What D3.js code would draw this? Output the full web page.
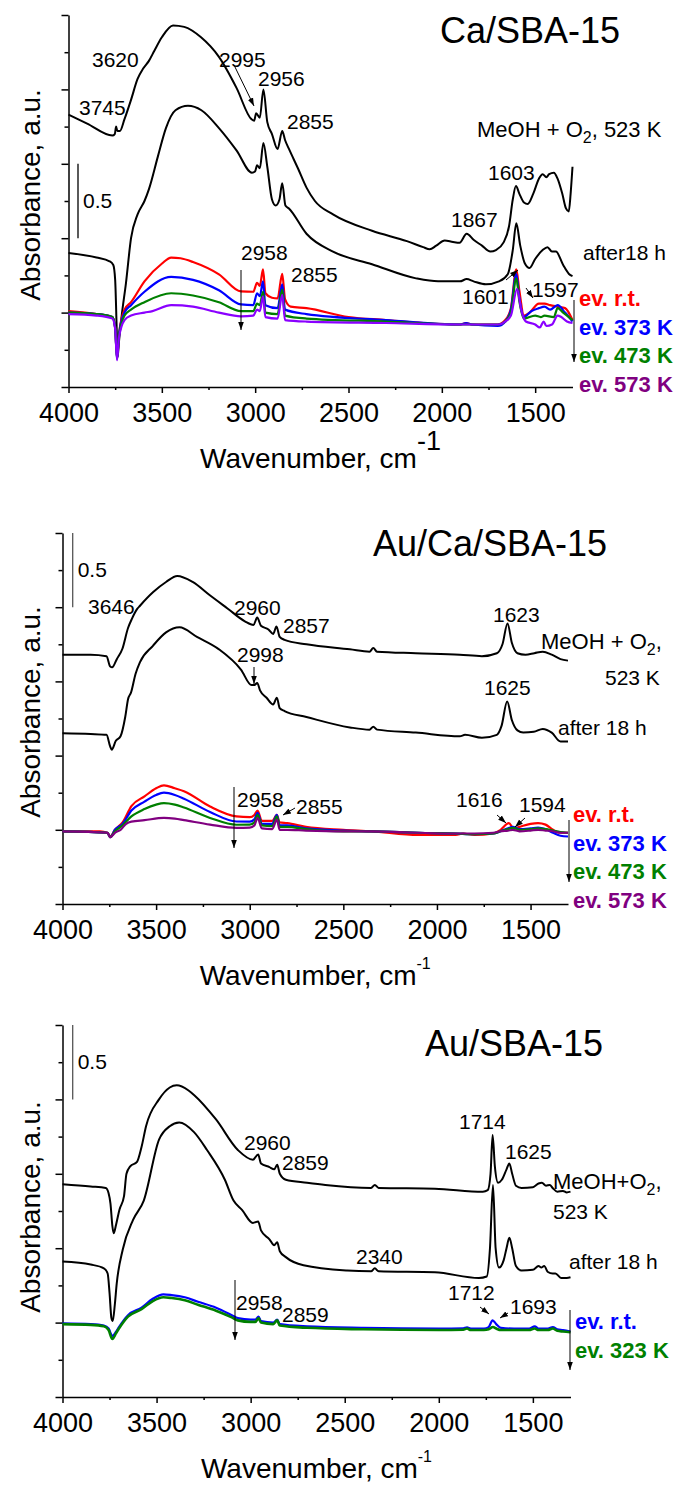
<!DOCTYPE html>
<html>
<head>
<meta charset="utf-8">
<script src="https://cdn.jsdelivr.net/npm/d3@7.9.0/dist/d3.min.js"></script>
<style>
  body { margin: 0; background: #fff; }
  svg { display: block; font-family: Arial, "Liberation Sans", sans-serif; }
</style>
</head>
<body>
<svg id="chart" width="680" height="1487"></svg>
<script>
// axis ticks (wavenumber in cm-1, absorbance in a.u.)
const waveTicks = [4000, 3500, 3000, 2500, 2000, 1500];
const waveMinor = [3750, 3250, 2750, 2250, 1750];
const absTicks = [-0.5, 0, 0.5, 1, 1.5, 2];
const absMinor = [-0.25, 0.25, 0.75, 1.25, 1.75];

// ---- Ca/SBA-15 ----
const caMeoh = [[4000,1.33],[3900,1.27],[3765,1.19],[3752,1.2],[3745,1.25],[3738,1.22],[3725,1.22],[3700,1.3],[3665,1.43],[3630,1.57],[3600,1.64],[3570,1.69],[3540,1.76],[3500,1.85],[3440,1.93],[3380,1.92],[3290,1.85],[3195,1.72],[3100,1.51],[3020,1.3],[3005,1.29],[2995,1.34],[2975,1.31],[2956,1.5],[2935,1.28],[2910,1.2],[2880,1.1],[2855,1.22],[2840,1.16],[2819,1.1],[2771,0.97],[2725,0.84],[2680,0.75],[2583,0.66],[2374,0.55],[2187,0.48],[2100,0.44],[2065,0.425],[2030,0.45],[1985,0.485],[1940,0.475],[1905,0.47],[1867,0.53],[1830,0.49],[1785,0.45],[1740,0.41],[1710,0.42],[1670,0.47],[1640,0.58],[1620,0.76],[1603,0.85],[1585,0.8],[1560,0.74],[1540,0.73],[1510,0.8],[1480,0.9],[1460,0.93],[1440,0.91],[1425,0.93],[1400,0.94],[1380,0.9],[1355,0.8],[1335,0.7],[1320,0.68],[1310,0.8],[1300,0.98]];
const caAfter = [[4000,0.4],[3850,0.37],[3780,0.345],[3760,0.32],[3750,0.22],[3742,-0.1],[3737,-0.3],[3730,-0.2],[3715,-0.02],[3692,0.2],[3665,0.5],[3630,0.66],[3593,0.75],[3569,0.83],[3521,1.05],[3478,1.24],[3427,1.36],[3360,1.39],[3288,1.36],[3194,1.24],[3100,1.09],[3017,0.94],[3000,0.95],[2990,0.99],[2975,0.97],[2956,1.14],[2935,0.98],[2910,0.76],[2890,0.72],[2870,0.76],[2855,0.87],[2838,0.72],[2819,0.7],[2725,0.53],[2583,0.41],[2374,0.325],[2138,0.23],[2020,0.21],[1960,0.21],[1903,0.21],[1867,0.225],[1830,0.21],[1764,0.19],[1694,0.21],[1646,0.26],[1620,0.42],[1601,0.6],[1580,0.45],[1555,0.33],[1530,0.3],[1500,0.36],[1460,0.42],[1434,0.44],[1410,0.41],[1389,0.41],[1350,0.32],[1319,0.26],[1300,0.245]];
const caEvRt = [[4000,0.01],[3850,-0.01],[3765,-0.03],[3750,-0.1],[3740,-0.3],[3730,-0.15],[3700,0.02],[3665,0.07],[3593,0.21],[3499,0.33],[3450,0.37],[3400,0.365],[3333,0.34],[3194,0.257],[3076,0.142],[3010,0.14],[2990,0.2],[2975,0.18],[2958,0.29],[2945,0.13],[2910,0.1],[2880,0.095],[2855,0.26],[2840,0.09],[2810,0.04],[2725,0.03],[2500,-0.03],[2300,-0.05],[2100,-0.07],[1900,-0.08],[1870,-0.07],[1840,-0.08],[1700,-0.08],[1660,-0.05],[1630,0.03],[1601,0.29],[1585,0.15],[1560,-0.02],[1530,0.0],[1480,0.06],[1450,0.06],[1420,0.05],[1380,0.04],[1340,0.03],[1300,-0.05]];
const caEv373 = [[4000,0.0],[3850,-0.01],[3765,-0.03],[3750,-0.1],[3740,-0.31],[3730,-0.15],[3700,0.0],[3665,0.05],[3593,0.14],[3450,0.24],[3333,0.22],[3194,0.15],[3076,0.055],[3010,0.05],[2990,0.13],[2975,0.11],[2958,0.21],[2945,0.05],[2880,0.03],[2855,0.19],[2840,0.02],[2725,-0.01],[2300,-0.05],[1900,-0.08],[1870,-0.07],[1840,-0.08],[1700,-0.09],[1660,-0.06],[1630,0.02],[1601,0.26],[1585,0.1],[1560,-0.03],[1520,0.01],[1480,0.03],[1450,0.04],[1420,0.02],[1380,0.05],[1340,0.0],[1300,-0.06]];
const caEv473 = [[4000,0.0],[3850,-0.01],[3765,-0.03],[3750,-0.1],[3740,-0.31],[3730,-0.16],[3700,-0.02],[3665,0.02],[3593,0.07],[3450,0.13],[3333,0.115],[3194,0.07],[3076,0.01],[3010,0.01],[2990,0.06],[2975,0.05],[2958,0.14],[2945,0.0],[2880,-0.01],[2855,0.155],[2840,-0.02],[2725,-0.04],[2300,-0.06],[1900,-0.08],[1700,-0.08],[1660,-0.06],[1630,0.0],[1601,0.23],[1585,0.08],[1560,-0.04],[1500,-0.02],[1470,-0.03],[1450,-0.02],[1400,-0.03],[1380,0.03],[1350,0.0],[1300,-0.05]];
const caEv573 = [[4000,-0.01],[3850,-0.02],[3765,-0.04],[3750,-0.11],[3740,-0.32],[3730,-0.17],[3700,-0.05],[3665,-0.02],[3593,0.0],[3550,0.01],[3450,0.05],[3333,0.04],[3194,0.0],[3076,-0.025],[3010,-0.02],[2990,0.02],[2975,0.01],[2958,0.11],[2945,-0.03],[2880,-0.04],[2855,0.12],[2840,-0.05],[2725,-0.06],[2300,-0.07],[1900,-0.08],[1700,-0.08],[1660,-0.06],[1630,-0.02],[1597,0.16],[1575,0.02],[1550,-0.06],[1500,-0.08],[1475,-0.1],[1455,-0.06],[1440,-0.09],[1410,-0.08],[1380,-0.02],[1360,-0.03],[1330,-0.06],[1300,-0.07]];
const caLegend = ['ev. r.t.', 'ev. 373 K', 'ev. 473 K', 'ev. 573 K'];

// ---- Au/Ca/SBA-15 ----
const auCaMeoh = [[4000,1.18],[3850,1.18],[3765,1.17],[3745,1.1],[3735,1.095],[3710,1.15],[3680,1.22],[3650,1.36],[3630,1.42],[3600,1.49],[3586,1.51],[3517,1.6],[3447,1.67],[3387,1.71],[3305,1.67],[3213,1.58],[3117,1.49],[3026,1.405],[2980,1.38],[2960,1.43],[2940,1.375],[2900,1.35],[2875,1.32],[2857,1.37],[2840,1.3],[2814,1.28],[2697,1.25],[2465,1.216],[2360,1.2],[2340,1.225],[2320,1.2],[2113,1.19],[1878,1.18],[1760,1.17],[1680,1.19],[1650,1.25],[1623,1.39],[1600,1.26],[1570,1.19],[1527,1.18],[1480,1.19],[1435,1.2],[1387,1.18],[1340,1.15],[1300,1.14]];
const auCaAfter = [[4000,0.65],[3850,0.645],[3765,0.64],[3745,0.56],[3737,0.54],[3715,0.6],[3690,0.63],[3665,0.76],[3650,0.88],[3634,0.925],[3610,1.05],[3586,1.13],[3517,1.24],[3447,1.33],[3375,1.365],[3282,1.3],[3164,1.216],[3047,1.08],[2990,0.975],[2975,0.975],[2960,0.99],[2945,0.94],[2910,0.89],[2875,0.845],[2855,0.89],[2840,0.82],[2814,0.8],[2697,0.76],[2465,0.69],[2360,0.675],[2340,0.695],[2320,0.675],[2113,0.655],[1878,0.63],[1850,0.64],[1760,0.62],[1680,0.64],[1655,0.7],[1625,0.865],[1600,0.74],[1570,0.67],[1539,0.655],[1483,0.66],[1435,0.68],[1387,0.655],[1340,0.595],[1300,0.595]];
const auCaEvRt = [[4000,-0.01],[3800,-0.01],[3760,-0.02],[3745,-0.045],[3720,0.0],[3679,0.05],[3632,0.16],[3562,0.225],[3500,0.28],[3458,0.3],[3400,0.28],[3351,0.26],[3212,0.157],[3071,0.09],[3000,0.085],[2975,0.1],[2958,0.13],[2935,0.06],[2880,0.06],[2855,0.1],[2840,0.05],[2800,0.045],[2700,0.02],[2500,0.0],[2350,-0.01],[2100,-0.035],[1900,-0.035],[1860,-0.025],[1800,-0.035],[1700,-0.025],[1660,0.0],[1616,0.045],[1590,0.01],[1560,0.02],[1500,0.04],[1460,0.045],[1420,0.035],[1380,0.0],[1340,-0.02],[1300,-0.02]];
const auCaEv373 = [[4000,-0.01],[3760,-0.02],[3745,-0.05],[3720,0.0],[3679,0.04],[3632,0.13],[3562,0.19],[3500,0.235],[3458,0.25],[3400,0.235],[3351,0.21],[3212,0.12],[3071,0.056],[3000,0.055],[2975,0.07],[2958,0.115],[2935,0.04],[2880,0.04],[2855,0.1],[2840,0.03],[2800,0.03],[2700,0.01],[2500,-0.005],[2350,-0.01],[2100,-0.02],[1900,-0.025],[1800,-0.03],[1700,-0.025],[1660,-0.01],[1620,0.01],[1594,0.02],[1560,0.005],[1500,0.01],[1460,0.015],[1420,0.005],[1380,-0.02],[1340,-0.04],[1300,-0.045]];
const auCaEv473 = [[4000,-0.01],[3760,-0.02],[3745,-0.05],[3720,-0.01],[3679,0.03],[3632,0.09],[3562,0.14],[3500,0.17],[3458,0.18],[3400,0.17],[3351,0.15],[3212,0.08],[3071,0.034],[3000,0.035],[2975,0.05],[2958,0.1],[2935,0.03],[2880,0.025],[2855,0.09],[2840,0.02],[2800,0.02],[2700,0.005],[2500,-0.01],[2350,-0.01],[2100,-0.02],[1900,-0.025],[1800,-0.03],[1700,-0.025],[1660,-0.01],[1620,0.005],[1594,0.013],[1560,0.0],[1500,0.005],[1460,0.01],[1420,0.005],[1380,-0.005],[1340,-0.015],[1300,-0.02]];
const auCaEv573 = [[4000,-0.01],[3760,-0.02],[3745,-0.05],[3720,-0.02],[3690,0.0],[3660,0.04],[3632,0.055],[3562,0.065],[3458,0.08],[3400,0.075],[3351,0.065],[3212,0.035],[3071,0.013],[3000,0.015],[2975,0.03],[2958,0.08],[2935,0.01],[2880,0.005],[2855,0.068],[2840,0.0],[2800,0.0],[2700,-0.005],[2500,-0.01],[2350,-0.01],[2100,-0.02],[1900,-0.025],[1800,-0.025],[1700,-0.02],[1660,-0.01],[1620,-0.005],[1594,0.0],[1560,-0.01],[1500,-0.005],[1460,0.0],[1420,-0.005],[1380,-0.01],[1340,-0.02],[1300,-0.02]];
const auCaLegend = ['ev. r.t.', 'ev. 373 K', 'ev. 473 K', 'ev. 573 K'];

// ---- Au/SBA-15 ----
const auMeoh = [[4000,0.93],[3850,0.915],[3770,0.905],[3755,0.87],[3745,0.8],[3735,0.65],[3728,0.6],[3715,0.66],[3697,0.76],[3673,0.85],[3660,1.0],[3640,1.05],[3604,1.08],[3580,1.18],[3556,1.32],[3487,1.5],[3430,1.58],[3393,1.595],[3330,1.56],[3301,1.53],[3184,1.365],[3068,1.16],[2988,1.095],[2960,1.13],[2945,1.07],[2900,1.045],[2875,1.03],[2859,1.06],[2845,1.0],[2813,0.96],[2700,0.94],[2603,0.925],[2360,0.905],[2340,0.925],[2320,0.905],[2021,0.9],[1766,0.88],[1740,0.89],[1725,1.0],[1714,1.26],[1702,1.05],[1685,0.94],[1665,0.96],[1640,1.03],[1625,1.07],[1610,1.0],[1590,0.92],[1560,0.905],[1500,0.91],[1470,0.935],[1452,0.94],[1430,0.92],[1410,0.925],[1395,0.905],[1370,0.88],[1340,0.885],[1320,0.875],[1300,0.88]];
const auAfter = [[4000,0.41],[3850,0.39],[3780,0.365],[3760,0.33],[3750,0.2],[3740,0.03],[3733,0.01],[3722,0.12],[3712,0.26],[3680,0.49],[3625,0.69],[3568,0.82],[3487,1.23],[3430,1.32],[3380,1.345],[3301,1.28],[3232,1.16],[3137,0.96],[3091,0.82],[3046,0.757],[2988,0.67],[2960,0.68],[2945,0.62],[2900,0.56],[2875,0.52],[2859,0.54],[2845,0.48],[2813,0.44],[2719,0.385],[2488,0.35],[2360,0.345],[2340,0.365],[2320,0.345],[2021,0.338],[1787,0.3],[1745,0.31],[1728,0.5],[1712,0.925],[1698,0.5],[1680,0.37],[1655,0.42],[1640,0.5],[1625,0.57],[1610,0.5],[1590,0.38],[1560,0.35],[1500,0.355],[1470,0.38],[1455,0.37],[1440,0.38],[1420,0.34],[1395,0.33],[1380,0.33],[1350,0.3],[1320,0.3],[1300,0.305]];
const auEvRt = [[4000,-0.005],[3850,-0.01],[3780,-0.02],[3755,-0.04],[3735,-0.09],[3715,-0.06],[3700,-0.03],[3652,0.05],[3580,0.1],[3520,0.16],[3464,0.19],[3420,0.185],[3350,0.17],[3280,0.14],[3184,0.1],[3100,0.05],[3068,0.03],[3000,0.02],[2975,0.02],[2958,0.04],[2945,0.01],[2880,0.0],[2859,0.02],[2845,-0.01],[2700,-0.025],[2400,-0.035],[2000,-0.04],[1870,-0.038],[1850,-0.032],[1830,-0.04],[1760,-0.04],[1735,-0.03],[1714,0.015],[1695,-0.01],[1670,-0.035],[1600,-0.04],[1520,-0.04],[1490,-0.025],[1470,-0.04],[1420,-0.04],[1394,-0.03],[1370,-0.045],[1340,-0.05],[1300,-0.06]];
const auEv323 = [[4000,-0.01],[3850,-0.015],[3780,-0.025],[3755,-0.05],[3735,-0.11],[3715,-0.07],[3700,-0.04],[3652,0.04],[3580,0.09],[3520,0.145],[3464,0.17],[3420,0.165],[3350,0.15],[3280,0.12],[3184,0.08],[3100,0.035],[3068,0.015],[3000,0.005],[2975,0.005],[2958,0.03],[2945,0.0],[2880,-0.01],[2859,0.015],[2845,-0.02],[2700,-0.035],[2400,-0.045],[2000,-0.05],[1870,-0.048],[1850,-0.04],[1830,-0.05],[1760,-0.05],[1735,-0.045],[1712,-0.03],[1695,-0.04],[1670,-0.05],[1600,-0.05],[1520,-0.05],[1490,-0.04],[1470,-0.05],[1420,-0.05],[1394,-0.04],[1370,-0.055],[1340,-0.06],[1300,-0.065]];
const auLegend = ['ev. r.t.', 'ev. 323 K'];

const svg = d3.select('#chart');

// arrowhead marker
svg.append('defs').append('marker')
  .attr('id', 'ah')
  .attr('viewBox', '0 0 10 10')
  .attr('refX', 10).attr('refY', 5)
  .attr('markerWidth', 8).attr('markerHeight', 8)
  .attr('orient', 'auto')
  .append('path').attr('d', 'M0,1.5L10,5L0,8.5Z').attr('fill', '#000');

function addText(g, x, y, txt, size = 21, extra = {}) {
  const t = g.append('text').attr('x', x).attr('y', y).attr('font-size', size).text(txt);
  Object.entries(extra).forEach(([k, v]) => t.attr(k, v));
  return t;
}

function addArrow(g, x1, y1, x2, y2) {
  g.append('line')
    .attr('x1', x1).attr('y1', y1).attr('x2', x2).attr('y2', y2)
    .attr('stroke', '#000').attr('stroke-width', 1)
    .attr('marker-end', 'url(#ah)');
}

// MeOH + O2 label with subscript
function addMeoh(g, x, y, before, after) {
  const t = g.append('text').attr('x', x).attr('y', y).attr('font-size', 22);
  t.append('tspan').text(before);
  t.append('tspan').attr('font-size', 16).attr('dy', 6).text('2');
  t.append('tspan').attr('dy', -6).text(after);
}

function drawPanel(p) {
  const x = d3.scaleLinear().domain([4000, 1300]).range([p.left, p.right]);
  const y = d3.scaleLinear().domain([-0.5, 2]).range([p.bottom, p.top]);
  const g = svg.append('g');

  // x axis, major + minor ticks
  const xa = g.append('g').attr('transform', `translate(0,${p.bottom})`)
    .call(d3.axisBottom(x).tickValues(waveTicks).tickFormat(d3.format('d'))
      .tickSize(6).tickSizeOuter(0).tickPadding(10));
  xa.selectAll('text').attr('font-size', 27).attr('font-family', 'Arial, "Liberation Sans", sans-serif').attr('fill', '#000');
  g.append('g').attr('transform', `translate(0,${p.bottom})`)
    .call(d3.axisBottom(x).tickValues(waveMinor).tickSize(3).tickFormat(''))
    .select('.domain').remove();

  // y axis (no labels)
  g.append('g').attr('transform', `translate(${p.left},0)`)
    .call(d3.axisLeft(y).tickValues(absTicks).tickSize(7).tickSizeOuter(0).tickFormat(''));
  g.append('g').attr('transform', `translate(${p.left},0)`)
    .call(d3.axisLeft(y).tickValues(absMinor).tickSize(4).tickFormat(''))
    .select('.domain').remove();
  g.selectAll('.domain, .tick line').attr('stroke', '#000').attr('stroke-width', 1.5);

  // axis titles
  const xl = g.append('text')
    .attr('x', (p.left + p.right) / 2).attr('y', p.bottom + 81)
    .attr('text-anchor', 'middle').attr('font-size', 28);
  xl.append('tspan').text('Wavenumber, cm');
  xl.append('tspan').attr('font-size', p.supSize).attr('dy', -p.supRise).text('-1');

  g.append('text')
    .attr('transform', `translate(40,${p.yLabelY}) rotate(-90)`)
    .attr('text-anchor', 'middle').attr('font-size', 28)
    .text('Absorbance, a.u.');

  // scale bar 0.5 a.u.
  g.append('line')
    .attr('x1', p.barX).attr('x2', p.barX)
    .attr('y1', y(p.barFrom)).attr('y2', y(p.barFrom - 0.5))
    .attr('stroke', p.barColor).attr('stroke-width', 1.3);
  addText(g, p.barX + 5, (y(p.barFrom) + y(p.barFrom - 0.5)) / 2 + 7, '0.5', 21);

  // spectra
  const line = d3.line().x(d => x(d[0])).y(d => y(d[1])).curve(d3.curveMonotoneX);
  p.series.forEach(s => {
    g.append('path').datum(s.data)
      .attr('d', line)
      .attr('fill', 'none')
      .attr('stroke', s.color)
      .attr('stroke-width', s.width)
      .attr('stroke-linejoin', 'round');
  });

  // title
  addText(g, p.titleX, p.titleY, p.title, 36);

  // legend
  p.legend.forEach((lab, i) => {
    addText(g, p.legX, p.legY + i * 28.5, lab, 22, { 'font-weight': 'bold', fill: p.legColors[i] });
  });
  addArrow(g, p.legArrow[0], p.legArrow[1], p.legArrow[0], p.legArrow[2]);

  // peak annotations
  p.notes.forEach(n => addText(g, n[1], n[2], n[0], 21));
  p.arrows.forEach(a => addArrow(g, a[0], a[1], a[2], a[3]));
  return g;
}

const black = '#000';
const p1 = drawPanel({
  left: 68.5, right: 572.5, top: 15, bottom: 387,
  yLabelY: 195, supSize: 27, supRise: 18,
  barX: 78, barFrom: 1.0, barColor: '#000',
  title: 'Ca/SBA-15', titleX: 440, titleY: 43,
  series: [
    { data: caMeoh, color: black, width: 2 },
    { data: caAfter, color: black, width: 2 },
    { data: caEvRt, color: '#ff0000', width: 2.2 },
    { data: caEv373, color: '#0000ff', width: 2.2 },
    { data: caEv473, color: '#008000', width: 2.2 },
    { data: caEv573, color: '#8a00ff', width: 2.2 }
  ],
  legend: caLegend, legColors: ['#ff0000', '#0000ff', '#008000', '#800080'],
  legX: 579, legY: 306, legArrow: [574, 300, 362],
  notes: [['3620', 92, 67], ['3745', 79, 115], ['2995', 219, 67], ['2956', 258, 86], ['2855', 287, 129],
          ['1603', 488, 180], ['1867', 451, 227], ['after18 h', 583, 260], ['2958', 241, 260], ['2855', 291, 282],
          ['1601', 462, 304], ['1597', 532, 297]],
  arrows: [[234, 65, 254, 106], [506, 280, 518, 270], [526, 288, 533, 298], [241, 270, 241, 330]]
});
addMeoh(p1, 477, 137, 'MeOH + O', ', 523 K');

const p2 = drawPanel({
  left: 62.5, right: 568, top: 533, bottom: 904,
  yLabelY: 712, supSize: 16, supRise: 16,
  barX: 72.7, barFrom: 2.0, barColor: '#555',
  title: 'Au/Ca/SBA-15', titleX: 373, titleY: 556,
  series: [
    { data: auCaMeoh, color: black, width: 2 },
    { data: auCaAfter, color: black, width: 2 },
    { data: auCaEvRt, color: '#ff0000', width: 2.2 },
    { data: auCaEv373, color: '#0000ff', width: 2.2 },
    { data: auCaEv473, color: '#008000', width: 2.2 },
    { data: auCaEv573, color: '#800080', width: 2.2 }
  ],
  legend: auCaLegend, legColors: ['#ff0000', '#0000ff', '#008000', '#800080'],
  legX: 573, legY: 822, legArrow: [569, 820, 882],
  notes: [['3646', 88, 614], ['2960', 234, 615], ['2857', 283, 633], ['1623', 493, 622], ['523 K', 605, 685],
          ['2998', 237, 662], ['1625', 484, 695], ['after 18 h', 558, 735], ['2958', 237, 807], ['2855', 296, 814],
          ['1616', 456, 807], ['1594', 519, 812]],
  arrows: [[254, 667, 254, 684], [295, 808, 283, 815], [497, 815, 506, 823], [525, 818, 515, 827], [234, 787, 234, 848]]
});
addMeoh(p2, 541, 649, 'MeOH + O', ',');

const p3 = drawPanel({
  left: 62.5, right: 570.5, top: 1025, bottom: 1397,
  yLabelY: 1207, supSize: 16, supRise: 16,
  barX: 72.7, barFrom: 2.0, barColor: '#555',
  title: 'Au/SBA-15', titleX: 425, titleY: 1056,
  series: [
    { data: auMeoh, color: black, width: 2 },
    { data: auAfter, color: black, width: 2 },
    { data: auEvRt, color: '#0000ff', width: 2.2 },
    { data: auEv323, color: '#008000', width: 2.6 }
  ],
  legend: auLegend, legColors: ['#0000ff', '#008000'],
  legX: 575, legY: 1329, legArrow: [570, 1310, 1370],
  notes: [['2960', 244, 1150], ['2859', 282, 1170], ['1714', 459, 1129], ['1625', 505, 1159], ['523 K', 553, 1219],
          ['after 18 h', 569, 1269], ['2340', 356, 1264], ['2958', 236, 1310], ['2859', 282, 1322],
          ['1712', 448, 1300], ['1693', 510, 1314]],
  arrows: [[480, 1307, 489, 1314], [508, 1313, 500, 1318], [235, 1280, 235, 1340]]
});
addMeoh(p3, 553, 1189, 'MeOH+O', ',');
</script>
</body>
</html>
